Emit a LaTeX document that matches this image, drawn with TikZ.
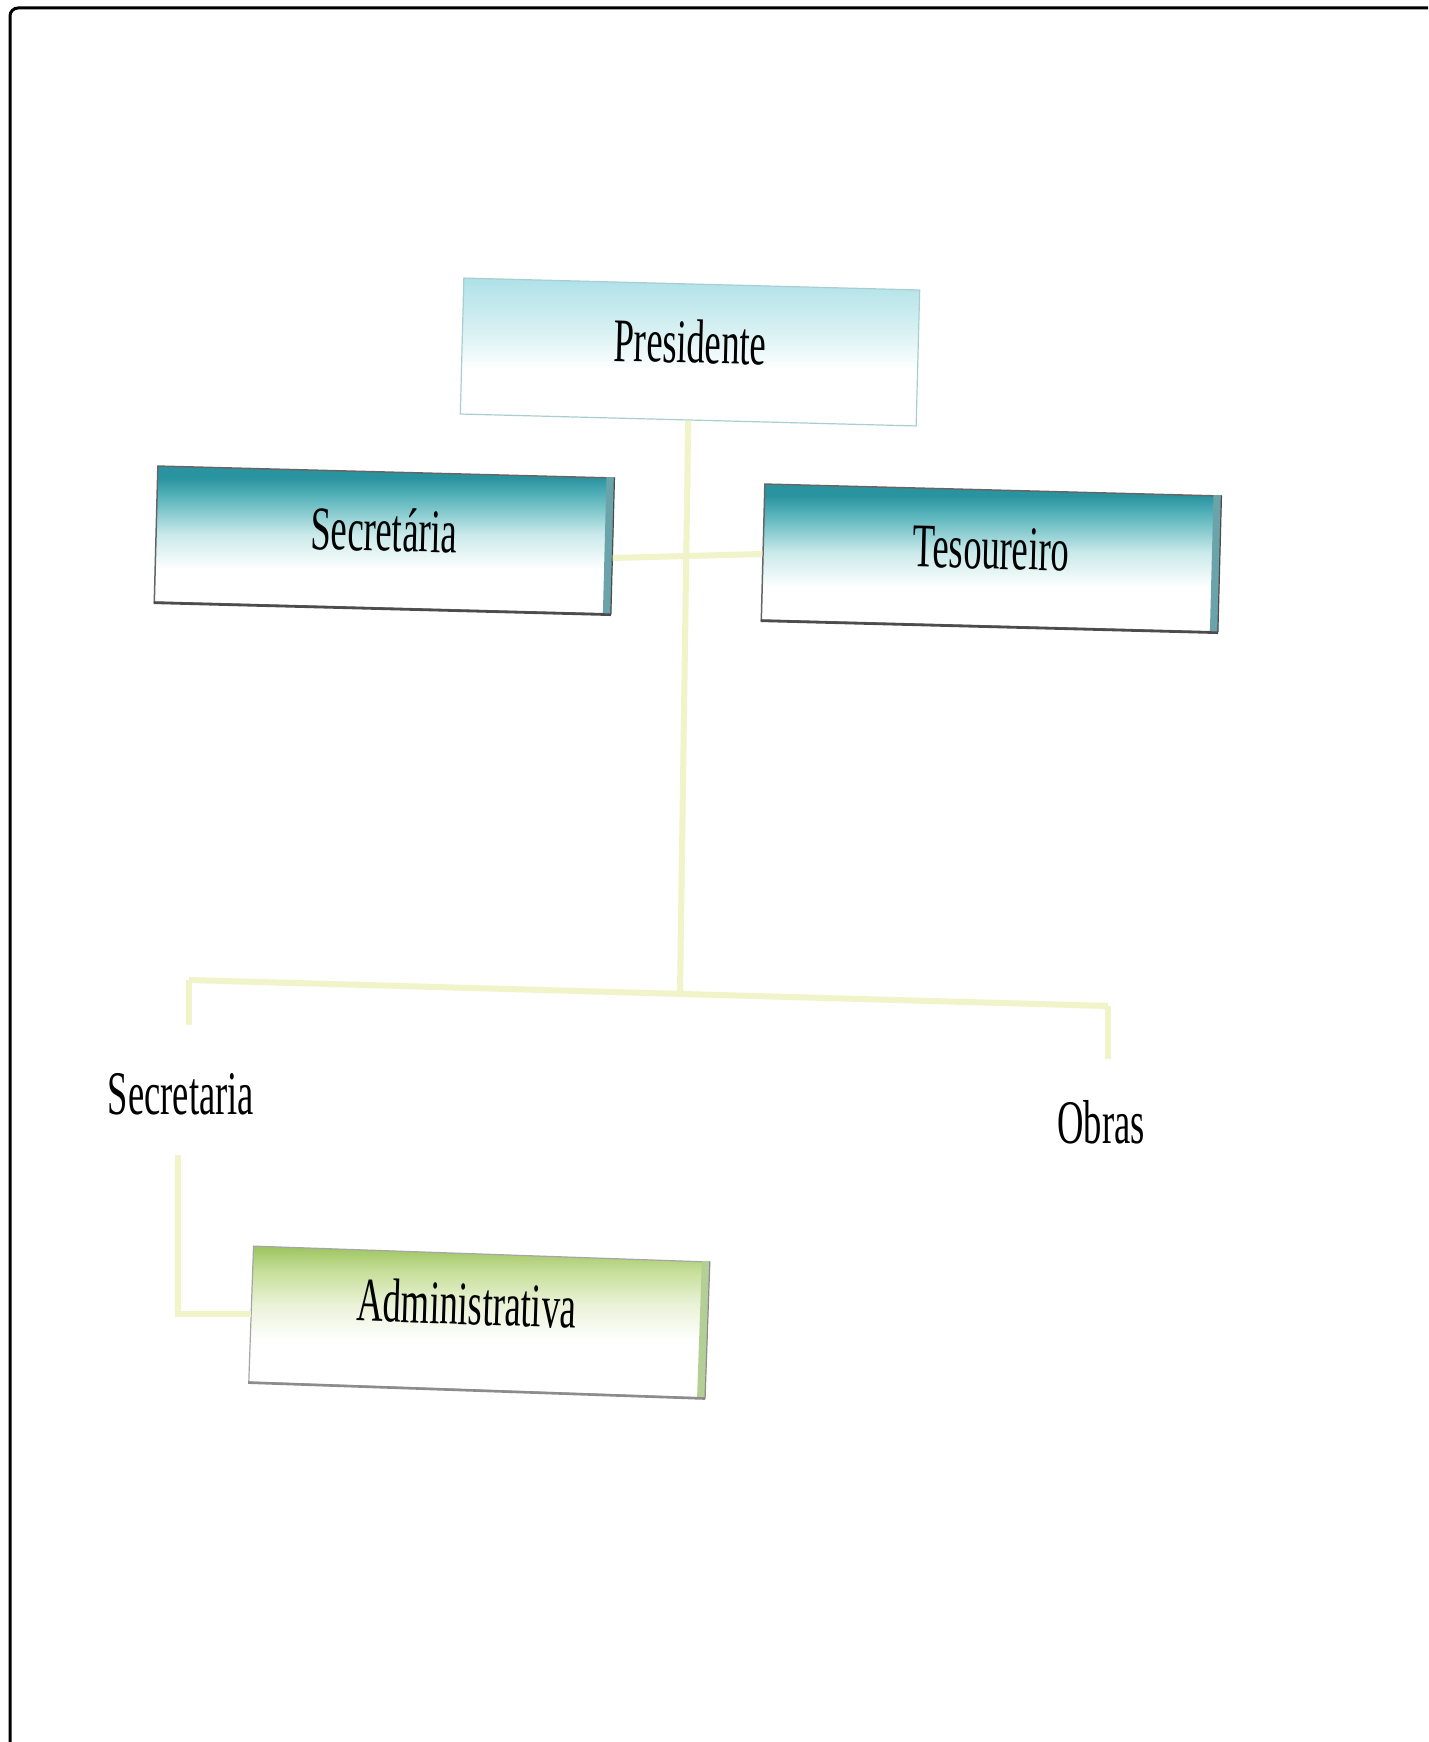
\documentclass[tikz,border=0pt]{standalone}
\usepackage{fontspec}
\setmainfont{Liberation Serif}
\usepackage{graphicx}
\usetikzlibrary{calc}
\definecolor{conncol}{HTML}{F1F3C8}
\definecolor{tealA}{HTML}{2A93A0}
\definecolor{tealB}{HTML}{5DB7BD}
\definecolor{tealC}{HTML}{C9E9EA}
\definecolor{presA}{HTML}{AEE1E8}
\definecolor{presB}{HTML}{D6F0F2}
\definecolor{presedge}{HTML}{A9CED2}
\definecolor{greenA}{HTML}{9CC45E}
\definecolor{greenB}{HTML}{C6DE98}
\definecolor{greenC}{HTML}{E9F2D6}
\definecolor{tealface}{HTML}{6AA4AA}
\definecolor{greenface}{HTML}{B4CF96}
\pgfdeclareverticalshading{tealshade}{100bp}{color(0bp)=(white); color(25bp)=(white); color(40bp)=(white); color(52bp)=(tealC); color(64bp)=(tealB); color(71bp)=(tealA); color(75bp)=(tealA); color(100bp)=(tealA)}
\pgfdeclareverticalshading{presshade}{100bp}{color(0bp)=(white); color(25bp)=(white); color(44bp)=(white); color(58bp)=(presB); color(75bp)=(presA); color(100bp)=(presA)}
\pgfdeclareverticalshading{greenshade}{100bp}{color(0bp)=(white); color(25bp)=(white); color(44bp)=(white); color(56bp)=(greenC); color(67bp)=(greenB); color(75bp)=(greenA); color(100bp)=(greenA)}
\newcommand\narrowtxt[1]{\scalebox{0.59}[1]{#1}}
\newcommand\bigfont{\fontsize{62}{70}\selectfont}
\begin{document}
\begin{tikzpicture}[x=1pt,y=-1pt,
  conn/.style={draw=conncol, line width=6pt},
  boxbase/.style={minimum width=456pt, minimum height=136pt, inner sep=0pt,
    font=\bigfont, text height=46pt, text depth=24pt, rotate=-1.5},
  presbox/.style={boxbase, shading=presshade, draw=presedge, line width=1.2pt},
  tealbox/.style={boxbase, shading=tealshade, draw=black!60, line width=1.5pt},
  greenbox/.style={boxbase, shading=greenshade, draw=black!35, line width=1.2pt, rotate=-0.5,
    text height=38pt, text depth=32pt},
  lbl/.style={font=\bigfont, inner sep=0pt},
  frame/.style={draw=black, line width=3pt, rounded corners=8pt}
]
\useasboundingbox (0,0) rectangle (1428,1742);
\fill[white] (0,0) rectangle (1428,1742);
\draw[frame] (10,1742) -- (10,8) -- (1428,8);

% boxes
\node[presbox]  (pres) at (690,352)  {\narrowtxt{Presidente}};
\node[tealbox]  (sec)  at (384,540)  {\narrowtxt{Secretária}};
\node[tealbox]  (tes)  at (991,558)  {\narrowtxt{Tesoureiro}};
\node[greenbox] (adm)  at (479,1322) {\narrowtxt{Administrativa}\kern26pt\relax};

% side faces and bottom edges
\foreach \b/\fc/\ec in {sec/tealface/black!70, tes/tealface/black!70, adm/greenface/black!45}{
  \fill[\fc] (\b.north east) -- ($(\b.north east)!8pt!(\b.north west)$)
     -- ($(\b.south east)!8pt!(\b.south west)$) -- (\b.south east) -- cycle;
  \draw[\ec, line width=1.2pt] (\b.north east) -- (\b.south east);
  \draw[\ec, line width=2.6pt] (\b.south west) -- (\b.south east);
}

% plain labels
\node[lbl] (secl) at (181,1094) {\narrowtxt{Secretaria}};
\node[lbl] (obr)  at (1101,1122) {\narrowtxt{Obras}};

% connectors
\coordinate (jb) at (680,992);
\coordinate (bl) at (189,980);
\coordinate (br) at (1108,1006);
\draw[conn] (pres.south) -- (jb);
\draw[conn] ([yshift=-12pt]sec.east) -- ([yshift=-2pt]tes.west);
\draw[conn] (bl) -- (br);
\draw[conn, shorten >=48pt] (bl) -- (bl |- secl.north);
\draw[conn, shorten >=41pt] (br) -- (br |- obr.north);
\draw[conn] (secl.south) ++(-3,40) |- (adm.west);
\end{tikzpicture}
\end{document}
